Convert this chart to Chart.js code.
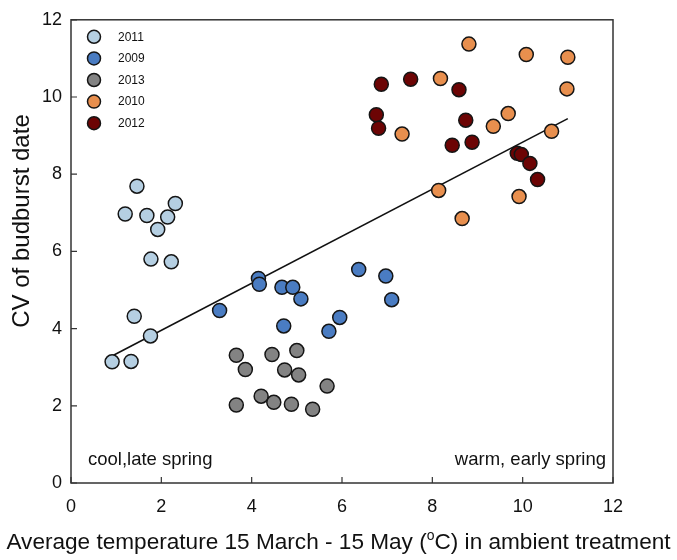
<!DOCTYPE html>
<html lang="en">
<head>
<meta charset="UTF-8">
<title>CV of budburst date vs temperature</title>
<script src="https://cdn.jsdelivr.net/npm/chart.js"></script>
<style>
  * { margin: 0; padding: 0; box-sizing: border-box; }
  body { background: #fff; font-family: 'Liberation Sans', Arial, sans-serif; }
  .wrap { width: 677px; height: 560px; position: relative; }
</style>
</head>
<body>
<div class="wrap"><canvas id="chart"></canvas></div>
<script>
// data
const years = ['2011', '2009', '2013', '2010', '2012'];
const colors = ['#b5cfe2', '#4a7cc2', '#838383', '#e88f4e', '#6c0404'];

const temp2011 = [0.91, 1.33, 1.40, 1.76, 1.20, 1.46, 1.68, 1.92, 1.77, 2.14, 2.31, 2.22];
const cv2011   = [3.14, 3.15, 4.32, 3.81, 6.97, 7.69, 6.93, 6.57, 5.80, 6.89, 7.24, 5.73];

const temp2009 = [3.29, 4.15, 4.17, 4.67, 4.91, 5.09, 4.71, 5.71, 5.95, 6.37, 6.97, 7.10];
const cv2009   = [4.47, 5.30, 5.15, 5.07, 5.07, 4.77, 4.07, 3.93, 4.29, 5.53, 5.36, 4.75];

const temp2013 = [3.66, 3.86, 4.45, 5.00, 4.73, 5.04, 5.67, 3.66, 4.21, 4.49, 4.88, 5.35];
const cv2013   = [3.31, 2.94, 3.33, 3.43, 2.93, 2.80, 2.51, 2.02, 2.25, 2.09, 2.04, 1.91];

const temp2010 = [8.81, 10.08, 11.00, 10.98, 8.18, 7.33, 9.68, 9.35, 10.64, 8.14, 9.92, 8.66];
const cv2010   = [11.37, 11.10, 11.03, 10.21, 10.48, 9.04, 9.57, 9.24, 9.11, 7.58, 7.42, 6.85];

const temp2012 = [6.87, 7.52, 8.59, 6.76, 6.81, 8.74, 8.44, 8.88, 9.88, 9.97, 10.16, 10.33];
const cv2012   = [10.33, 10.46, 10.19, 9.54, 9.19, 9.40, 8.75, 8.83, 8.54, 8.51, 8.28, 7.86];

const fitX = [0.94, 11.0];
const fitY = [3.31, 9.44];

const xTicks = [0, 2, 4, 6, 8, 10, 12];
const yTicks = [0, 2, 4, 6, 8, 10, 12];

const tempSets = [temp2011, temp2009, temp2013, temp2010, temp2012];
const cvSets = [cv2011, cv2009, cv2013, cv2010, cv2012];

const FONT = "'Liberation Sans', Arial, sans-serif";
const INK = '#111';

function pts(xs, ys) {
  return xs.map((x, i) => ({ x: x, y: ys[i] }));
}

const datasets = years.map((yr, i) => ({
  type: 'scatter',
  label: yr,
  data: pts(tempSets[i], cvSets[i]),
  backgroundColor: colors[i],
  borderColor: '#151515',
  borderWidth: 1.5,
  pointRadius: 7,
  order: 0
}));

datasets.push({
  type: 'line',
  label: 'fit',
  data: pts(fitX, fitY),
  borderColor: INK,
  borderWidth: 1.6,
  pointRadius: 0,
  fill: false,
  order: 1
});

// frame, inward ticks, legend inside the plot, notes and axis titles
const decor = {
  id: 'decor',
  afterDraw(chart) {
    const ctx = chart.ctx;
    const a = chart.chartArea;
    const xs = chart.scales.x, ys = chart.scales.y;
    ctx.save();

    ctx.strokeStyle = '#333';
    ctx.lineWidth = 1.5;
    ctx.strokeRect(a.left, a.top, a.right - a.left, a.bottom - a.top);

    ctx.lineWidth = 1.2;
    ctx.beginPath();
    xTicks.forEach(v => {
      const p = xs.getPixelForValue(v);
      ctx.moveTo(p, a.bottom);
      ctx.lineTo(p, a.bottom - 6);
    });
    yTicks.forEach(v => {
      const p = ys.getPixelForValue(v);
      ctx.moveTo(a.left, p);
      ctx.lineTo(a.left + 6, p);
    });
    ctx.stroke();

    // legend
    ctx.font = '12px ' + FONT;
    ctx.textBaseline = 'middle';
    ctx.textAlign = 'left';
    years.forEach((yr, i) => {
      const cy = a.top + 17 + i * 21.6;
      ctx.beginPath();
      ctx.arc(a.left + 23, cy, 6.5, 0, Math.PI * 2);
      ctx.fillStyle = colors[i];
      ctx.fill();
      ctx.strokeStyle = '#151515';
      ctx.lineWidth = 1.5;
      ctx.stroke();
      ctx.fillStyle = INK;
      ctx.fillText(yr, a.left + 47, cy + 0.5);
    });

    // corner notes
    ctx.font = '18.5px ' + FONT;
    ctx.textBaseline = 'alphabetic';
    ctx.fillStyle = INK;
    ctx.textAlign = 'left';
    ctx.fillText('cool,late spring', a.left + 17, a.bottom - 18);
    ctx.textAlign = 'right';
    ctx.fillText('warm, early spring', a.right - 7, a.bottom - 18);

    // x title with superscript degree
    const big = '22.6px ' + FONT, small = '14px ' + FONT;
    const p1 = 'Average temperature 15 March - 15 May (', p2 = 'o', p3 = 'C) in ambient treatment';
    ctx.font = big;
    const w1 = ctx.measureText(p1).width, w3 = ctx.measureText(p3).width;
    ctx.font = small;
    const w2 = ctx.measureText(p2).width;
    let x0 = 338.5 - (w1 + w2 + w3) / 2;
    const by = 549;
    ctx.textAlign = 'left';
    ctx.font = big;
    ctx.fillText(p1, x0, by);
    ctx.font = small;
    ctx.fillText(p2, x0 + w1, by - 9);
    ctx.font = big;
    ctx.fillText(p3, x0 + w1 + w2, by);

    // y title
    ctx.translate(22, 221);
    ctx.rotate(-Math.PI / 2);
    ctx.textAlign = 'center';
    ctx.textBaseline = 'middle';
    ctx.font = '24px ' + FONT;
    ctx.fillText('CV of budburst date', 0, 0);

    ctx.restore();
  }
};

new Chart(document.getElementById('chart'), {
  data: { datasets: datasets },
  options: {
    responsive: true,
    maintainAspectRatio: false,
    animation: false,
    layout: { padding: { top: 10, right: 64, left: 0, bottom: 0 } },
    plugins: {
      legend: { display: false },
      tooltip: { enabled: false }
    },
    scales: {
      x: {
        type: 'linear',
        min: 0, max: 12,
        afterBuildTicks: s => { s.ticks = xTicks.map(v => ({ value: v })); },
        afterFit: s => { s.height = 77; },
        grid: { display: false, drawTicks: false },
        border: { display: false },
        ticks: { font: { size: 18, family: FONT }, color: INK, padding: 13, maxRotation: 0 }
      },
      y: {
        type: 'linear',
        min: 0, max: 12,
        afterBuildTicks: s => { s.ticks = yTicks.map(v => ({ value: v })); },
        afterFit: s => { s.width = 71; },
        grid: { display: false, drawTicks: false },
        border: { display: false },
        ticks: { font: { size: 18, family: FONT }, color: INK, padding: 9 }
      }
    }
  },
  plugins: [decor]
});
</script>
</body>
</html>
